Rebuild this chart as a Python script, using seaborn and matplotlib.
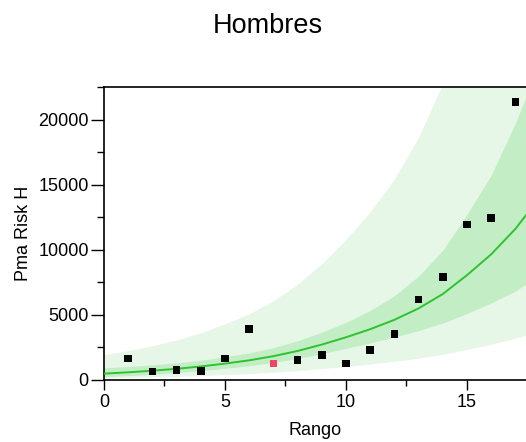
import matplotlib
matplotlib.use("Agg")
import matplotlib.pyplot as plt
import seaborn as sns
import pandas as pd
from matplotlib.ticker import MultipleLocator

# observed points
rango = [1, 2, 3, 4, 5, 6, 7, 8, 9, 10, 11, 12, 13, 14, 15, 16, 17]
pma_risk = [1665, 640, 790, 690, 1665, 3910, 1280, 1535, 1920, 1280,
            2300, 3555, 6190, 7930, 11950, 12460, 21360]
highlight = [False, False, False, False, False, False, True, False, False, False,
             False, False, False, False, False, False, False]

# fitted curve and bands
fit_x = [0, 1, 2, 3, 4, 5, 6, 7, 8, 9, 10, 11, 12, 13, 14, 15, 16, 17, 17.5]
fit_y = [490, 590, 715, 860, 1040, 1260, 1510, 1830, 2230, 2720, 3280, 3900,
         4620, 5500, 6600, 8050, 9650, 11600, 12800]
inner_hi = [931, 1033, 1165, 1316, 1518, 1777, 2084, 2489, 3011, 3672, 4428,
            5343, 6468, 7975, 9966, 12719, 15730, 19720, 22016]
inner_lo = [258, 337, 439, 562, 712, 894, 1094, 1346, 1652, 2015, 2430, 2847,
            3300, 3793, 4371, 5095, 5920, 6824, 7442]
outer_hi = [1911, 2213, 2588, 3027, 3578, 4259, 5028, 6021, 7292, 8867, 10726,
            12831, 15338, 18535, 22638, 28175, 34547, 42688, 47744]
outer_lo = [126, 157, 198, 244, 302, 373, 453, 556, 682, 834, 1003, 1185,
            1392, 1632, 1924, 2300, 2696, 3152, 3432]

sns.set_theme(style="ticks")
plt.rcParams["font.family"] = ["Liberation Sans", "DejaVu Sans"]
plt.rcParams["text.color"] = "black"
plt.rcParams["axes.labelcolor"] = "black"

fig = plt.figure(figsize=(5.26, 4.42), dpi=100)
ax = fig.add_axes([104 / 526, 62 / 442, 422 / 526, 293 / 442])

ax.fill_between(fit_x, outer_lo, outer_hi, color="#e7f7e7", linewidth=0, zorder=1)
ax.fill_between(fit_x, inner_lo, inner_hi, color="#c3eec5", linewidth=0, zorder=2)

fit_df = pd.DataFrame({"x": fit_x, "y": fit_y})
sns.lineplot(data=fit_df, x="x", y="y", ax=ax, color="#2fc22f", linewidth=1.4,
             zorder=3, sort=False)

pts = pd.DataFrame({"Rango": rango, "Pma": pma_risk,
                    "grp": ["hi" if h else "n" for h in highlight]})
sns.scatterplot(data=pts, x="Rango", y="Pma", hue="grp",
                palette={"n": "#000000", "hi": "#ee4466"}, marker="s", s=30,
                linewidth=0, ax=ax, zorder=4, legend=False)

ax.set_xlim(0, 17.44)
ax.set_ylim(0, 22500)
ax.xaxis.set_major_locator(MultipleLocator(5))
ax.xaxis.set_minor_locator(MultipleLocator(2.5))
ax.yaxis.set_major_locator(MultipleLocator(5000))
ax.yaxis.set_minor_locator(MultipleLocator(2500))
ax.tick_params(axis="x", which="major", direction="out", length=7, width=1.0,
               labelsize=13, color="black", labelcolor="black", pad=3.3)
ax.tick_params(axis="y", which="major", direction="out", length=9.4, width=1.0,
               labelsize=13, color="black", labelcolor="black", pad=1.5)
ax.tick_params(axis="x", which="minor", direction="out", length=4.3, width=1.0,
               color="black")
ax.tick_params(axis="y", which="minor", direction="out", length=5, width=1.0,
               color="black")

for side in ["left", "bottom", "top"]:
    ax.spines[side].set_visible(True)
    ax.spines[side].set_linewidth(1.2)
    ax.spines[side].set_color("black")
ax.spines["right"].set_visible(False)

ax.set_xlabel("Rango", fontsize=13)
ax.set_ylabel("Pma Risk H", fontsize=13)
ax.xaxis.set_label_coords(0.5, -0.142)
ax.yaxis.set_label_coords(-0.171, 0.5)
fig.text(0.5086, 1 - 32.7 / 442, "Hombres", ha="center", va="baseline",
         fontsize=19.5, color="black")

fig.savefig("out.png", dpi=100)
